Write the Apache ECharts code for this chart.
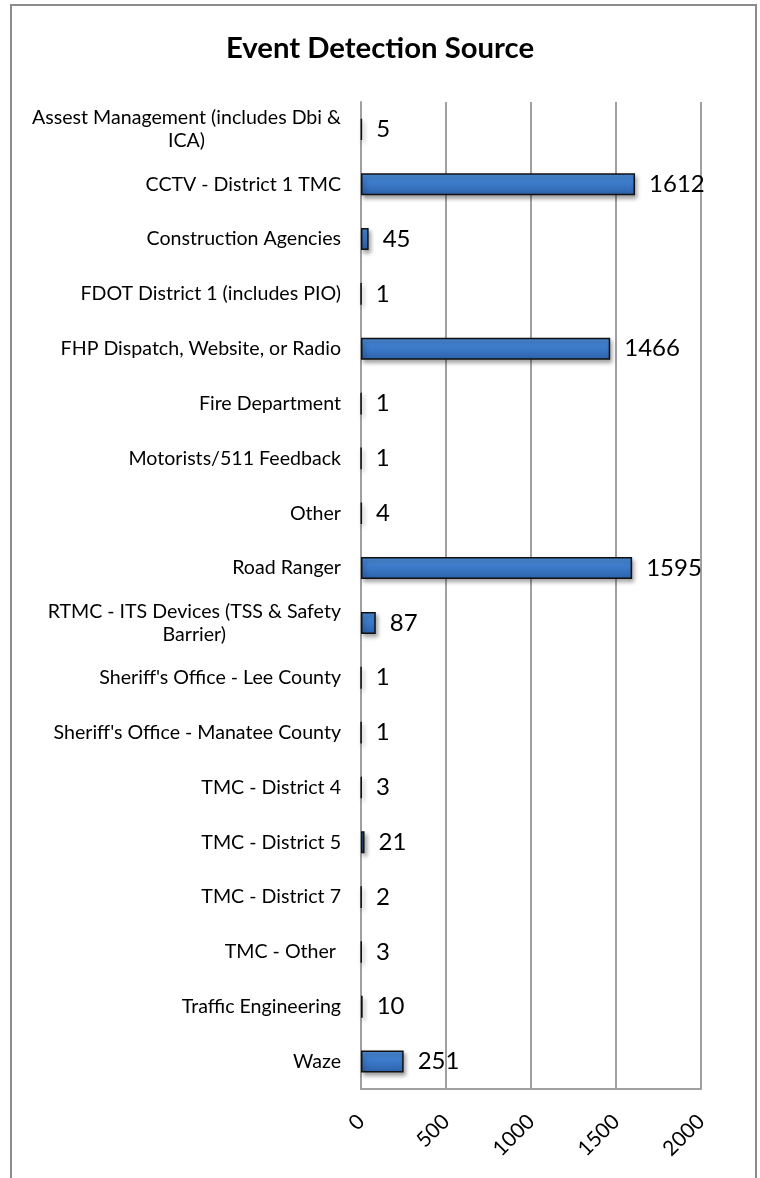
<!DOCTYPE html>
<html>
<head>
<meta charset="utf-8">
<title>Event Detection Source</title>
<script src="https://cdn.jsdelivr.net/npm/echarts@6/dist/echarts.min.js"></script>
<style>
html,body{margin:0;padding:0;background:#fff;}
#main{width:760px;height:1178px;}
</style>
</head>
<body>
<div id="main"></div>
<script>
// 数据
var sources = [
	'Assest Management (includes Dbi &\nICA)',
	'CCTV - District 1 TMC',
	'Construction Agencies',
	'FDOT District 1 (includes PIO)',
	'FHP Dispatch, Website, or Radio',
	'Fire Department',
	'Motorists/511 Feedback',
	'Other',
	'Road Ranger',
	'RTMC - ITS Devices (TSS & Safety\nBarrier)',
	"Sheriff's Office - Lee County",
	"Sheriff's Office - Manatee County",
	'TMC - District 4',
	'TMC - District 5',
	'TMC - District 7',
	'TMC - Other ',
	'Traffic Engineering',
	'Waze'
];
var counts = [5, 1612, 45, 1, 1466, 1, 1, 4, 1595, 87, 1, 1, 3, 21, 2, 3, 10, 251];
var xTicks = [0, 500, 1000, 1500, 2000];

var chart = echarts.init(document.getElementById('main'));
var font = 'Lato, "Liberation Sans", sans-serif';

chart.setOption({
	backgroundColor: '#fff',
	animation: false,
	title: {
		text: 'Event Detection Source',
		left: 'center',
		top: 29,
		textStyle: {fontFamily: font, fontSize: 29.3, fontWeight: 'bold', color: '#000'}
	},
	//外框
	graphic: [{
		type: 'rect',
		shape: {x: 11, y: 5, width: 745, height: 1200},
		style: {fill: null, stroke: '#8c8c8c', lineWidth: 2},
		silent: true
	}],
	grid: {left: 361, right: 59, top: 102, bottom: 89},
	xAxis: {
		type: 'value',
		min: xTicks[0],
		max: xTicks[xTicks.length - 1],
		interval: 500,
		axisLine: {show: true, lineStyle: {color: '#a0a0a0', width: 2}},
		axisTick: {show: false},
		splitLine: {show: true, lineStyle: {color: '#a0a0a0', width: 2}},
		axisLabel: {
			rotate: 45,
			margin: 29,
			fontFamily: font,
			fontSize: 21,
			color: '#000',
			formatter: function(v){ return String(v); }
		}
	},
	yAxis: {
		type: 'category',
		inverse: true,
		data: sources,
		axisLine: {show: true, lineStyle: {color: '#a0a0a0', width: 2}},
		axisTick: {show: false},
		axisLabel: {
			margin: 20,
			fontFamily: font,
			fontSize: 19.6,
			color: '#000',
			lineHeight: 23,
			formatter: function(v){
				//多行居中
				return v.split('\n').map(function(s){ return '{c|' + s + '}'; }).join('\n');
			},
			rich: {c: {align: 'center', fontFamily: font, fontSize: 19.6, lineHeight: 23, color: '#000'}}
		}
	},
	series: [{
		type: 'bar',
		data: counts,
		barWidth: 22,
		itemStyle: {
			color: new echarts.graphic.LinearGradient(0, 0, 0, 1, [
				{offset: 0, color: '#4b8dda'},
				{offset: 0.5, color: '#3b79c8'},
				{offset: 1, color: '#2d61ab'}
			]),
			borderColor: '#111',
			borderWidth: 1.5,
			shadowColor: 'rgba(0,0,0,0.35)',
			shadowBlur: 4,
			shadowOffsetX: 2,
			shadowOffsetY: 3
		},
		label: {
			show: true,
			position: 'right',
			distance: 14,
			fontFamily: font,
			fontSize: 24,
			color: '#000'
		}
	}]
});
</script>
</body>
</html>
